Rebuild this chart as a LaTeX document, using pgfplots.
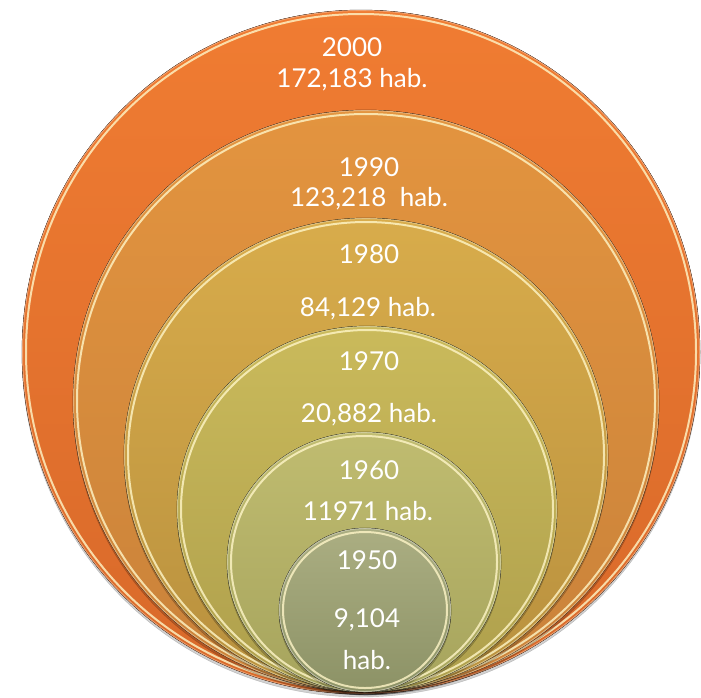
\documentclass[border=0pt]{standalone}
\usepackage{pgfplots}
\pgfplotsset{compat=1.18}
\usepackage{fontspec}
\setmainfont{Lato}

\definecolor{cA1}{HTML}{F07C32}\definecolor{cA2}{HTML}{D8692A}
\definecolor{cB1}{HTML}{E3943F}\definecolor{cB2}{HTML}{C9823A}
\definecolor{cC1}{HTML}{D8AC4B}\definecolor{cC2}{HTML}{B8903E}
\definecolor{cD1}{HTML}{CABA5B}\definecolor{cD2}{HTML}{AE9F4C}
\definecolor{cE1}{HTML}{C0BC70}\definecolor{cE2}{HTML}{A6A45D}
\definecolor{cF1}{HTML}{ABAE82}\definecolor{cF2}{HTML}{8C9266}
\definecolor{rim}{HTML}{FFF6C8}

\pgfplotstableread[col sep=semicolon]{
x;y;label
352;47;2000
352;80;172,183 hab.
369;167;1990
369;199;123,218\ \ hab.
369;254;1980
368;309;84,129 hab.
369;361;1970
369;415;20,882 hab.
369;470;1960
368;511;11971 hab.
367;560;1950
367;620;9,104
367;660;hab.
}\labels

\pgfplotsset{
  ring/.style 2 args={
    only marks, scatter, mark=*, mark size=0pt, mark options={draw=none,fill=none},
    visualization depends on={\thisrow{rx}\as\rx},
    visualization depends on={\thisrow{ry}\as\ry},
    scatter/@pre marker code/.code={
      \fill[black,opacity=0.18] (0,-3pt) ellipse [x radius=\rx pt, y radius=\ry pt];
      \fill[top color=#1,bottom color=#2] (0,0) ellipse [x radius=\rx pt, y radius=\ry pt];
      \draw[#1!60!white,line width=1pt,opacity=0.8] (0,0) ellipse [x radius={\rx pt-0.5pt}, y radius={\ry pt-0.5pt}];
      \draw[rim,line width=2pt,opacity=0.8] (0,0) ellipse [x radius={\rx pt-4pt}, y radius={\ry pt-4pt}];
    },
    scatter/@post marker code/.code={},
  },
}

\begin{document}
\begin{tikzpicture}
\begin{axis}[
  x=1pt, y=1pt, y dir=reverse,
  xmin=0, xmax=701, ymin=0, ymax=696,
  axis lines=box, axis line style={draw=none},
  xtick=\empty, ytick=\empty,
  clip=false,
]
% year 2000: 172,183 hab.
\addplot[ring={cA1}{cA2}] table[x=cx,y=cy] {
cx cy rx ry
361 352 339 342
};
% year 1990: 123,218 hab.
\addplot[ring={cB1}{cB2}] table[x=cx,y=cy] {
cx cy rx ry
366 401 293 291
};
% year 1980: 84,129 hab.
\addplot[ring={cC1}{cC2}] table[x=cx,y=cy] {
cx cy rx ry
366 455 242 237
};
% year 1970: 20,882 hab.
\addplot[ring={cD1}{cD2}] table[x=cx,y=cy] {
cx cy rx ry
367 509 190 183
};
% year 1960: 11971 hab.
\addplot[ring={cE1}{cE2}] table[x=cx,y=cy] {
cx cy rx ry
364 562 137 130
};
% year 1950: 9,104 hab.
\addplot[ring={cF1}{cF2}] table[x=cx,y=cy] {
cx cy rx ry
365 610 86 82
};
% labels
\addplot[only marks, mark=*, mark size=0pt, mark options={draw=none,fill=none},
  point meta=explicit symbolic,
  nodes near coords,
  nodes near coords align=center,
  every node near coord/.append style={anchor=center, text=white, inner sep=0pt,
    font=\fontsize{26}{28}\selectfont},
] table[x=x,y=y,meta=label] {\labels};
\end{axis}
\end{tikzpicture}
\end{document}
